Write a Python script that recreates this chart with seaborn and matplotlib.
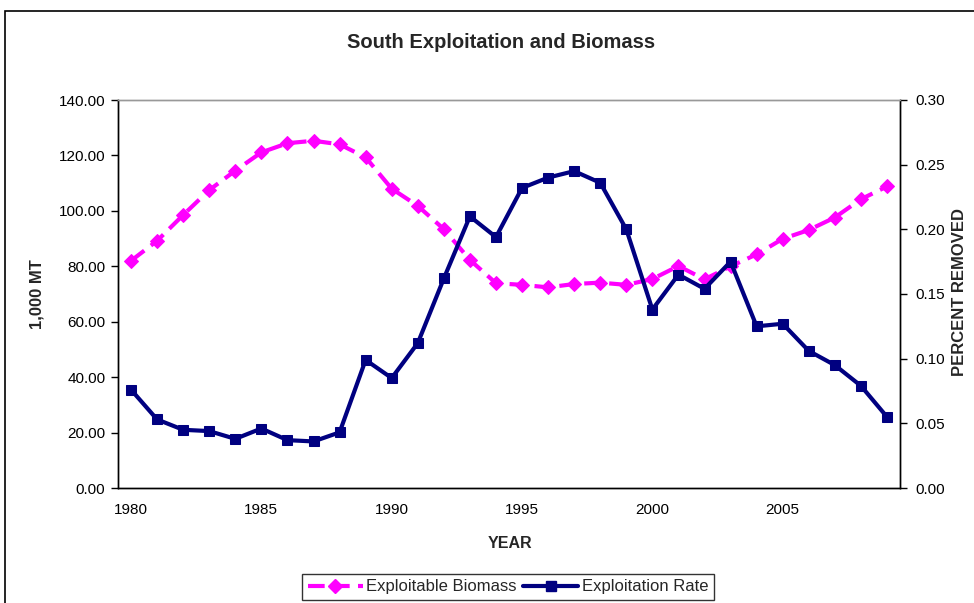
import matplotlib
matplotlib.use("Agg")
import matplotlib.pyplot as plt
from matplotlib.lines import Line2D
from matplotlib.patches import Rectangle
from matplotlib.ticker import FormatStrFormatter, MultipleLocator
import seaborn as sns
import pandas as pd

years = list(range(1980, 2010))
biomass = [82.0, 89.2, 98.5, 107.5, 114.5, 121.1, 124.4, 125.3, 124.0, 119.3,
           108.0, 101.8, 93.4, 82.3, 73.9, 73.3, 72.4, 73.6, 74.1, 73.3,
           75.4, 80.1, 75.3, 80.0, 84.3, 89.9, 93.1, 97.6, 104.2, 108.8]
exploitation = [0.076, 0.053, 0.045, 0.044, 0.038, 0.046, 0.037, 0.036, 0.043, 0.099,
                0.085, 0.112, 0.162, 0.210, 0.194, 0.232, 0.240, 0.245, 0.236, 0.200,
                0.138, 0.165, 0.154, 0.175, 0.125, 0.127, 0.106, 0.095, 0.079, 0.055]
year_labels = [1980, 1985, 1990, 1995, 2000, 2005]

df = pd.DataFrame({"year": years, "biomass": biomass, "rate": exploitation})

sns.set_theme(style="white")
plt.rcParams["font.family"] = ["Liberation Sans", "DejaVu Sans"]

pink = "#FF00FF"
navy = "#000080"
W, H = 974, 603

fig = plt.figure(figsize=(W / 100, H / 100), dpi=100)
ax = fig.add_axes([118 / W, 1 - 488 / H, (900 - 118) / W, (488 - 100) / H])
ax2 = ax.twinx()

sns.lineplot(data=df, x="year", y="biomass", ax=ax, color=pink, linewidth=3,
             marker="D", markersize=7.5, markeredgecolor=pink, dashes=False,
             linestyle=(0, (4, 2)))
sns.lineplot(data=df, x="year", y="rate", ax=ax2, color=navy, linewidth=3,
             marker="s", markersize=7.5, markeredgecolor=navy)

ax.set_xlim(1979.5, 2009.5)
ax.set_ylim(0, 140)
ax2.set_ylim(0, 0.30)
ax.yaxis.set_major_locator(MultipleLocator(20))
ax2.yaxis.set_major_locator(MultipleLocator(0.05))
ax.yaxis.set_major_formatter(FormatStrFormatter("%.2f"))
ax2.yaxis.set_major_formatter(FormatStrFormatter("%.2f"))

ax.set_xticks(year_labels)
ax.set_xticklabels([str(y) for y in year_labels])
ax.set_xticks([1979.5 + k for k in range(31)], minor=True)
ax.tick_params(axis="x", which="major", length=0, pad=11, labelsize=11, colors="black")
ax.tick_params(axis="x", which="minor", length=5, width=1, color="black", direction="out")
ax.tick_params(axis="y", length=5, width=1, color="black", direction="out",
               labelsize=11, labelcolor="black", left=True, pad=4)
ax2.tick_params(axis="y", length=5, width=1, color="black", direction="out",
                labelsize=11, labelcolor="black", right=True, pad=6)

for a in (ax, ax2):
    for s in a.spines.values():
        s.set_color("black")
        s.set_linewidth(1)
    a.spines["top"].set_color("#999999")
    a.grid(False)

ax.set_xlabel("")
ax.set_ylabel("")
ax2.set_ylabel("")

fig.text(501 / W, 1 - 43 / H, "South Exploitation and Biomass", ha="center",
         va="center", fontsize=14.5, fontweight="bold")
fig.text(510 / W, 1 - 544 / H, "YEAR", ha="center", va="center",
         fontsize=11.5, fontweight="bold")
fig.text(37 / W, 1 - 294 / H, "1,000 MT", ha="center", va="center",
         rotation=90, fontsize=12, fontweight="bold")
fig.text(960 / W, 1 - 292 / H, "PERCENT REMOVED", ha="center", va="center",
         rotation=90, fontsize=12, fontweight="bold")

# chart-area outline
fig.add_artist(Rectangle((5 / W, -0.1), 1.1, 1 - 11 / H + 0.1,
                         transform=fig.transFigure, fill=False,
                         edgecolor="black", linewidth=1.2))

handles = [
    Line2D([], [], color=pink, linewidth=3, linestyle=(0, (4, 2)), marker="D",
           markersize=7.5, markeredgecolor=pink),
    Line2D([], [], color=navy, linewidth=3, marker="s", markersize=7.5,
           markeredgecolor=navy),
]
leg = fig.legend(handles, ["Exploitable Biomass", "Exploitation Rate"],
                 loc="center", bbox_to_anchor=(508 / W, 1 - 587 / H), ncol=2,
                 frameon=True, fancybox=False, fontsize=12, handlelength=3.3,
                 columnspacing=0.4, handletextpad=0.2, borderpad=0.35)
leg.get_frame().set_edgecolor("black")
leg.get_frame().set_linewidth(1)

fig.savefig("out.png", dpi=100)
